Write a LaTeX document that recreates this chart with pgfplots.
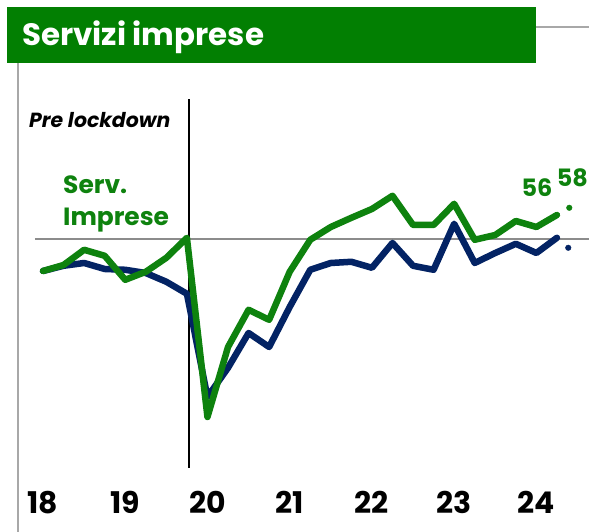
\documentclass[border=0pt]{standalone}
\usepackage{fontspec}
\setmainfont{Poppins}
\usepackage{pgfplots}
\usepackage{pgfplotstable}
\pgfplotsset{compat=1.18}

\definecolor{titlegreen}{RGB}{2,127,2}
\definecolor{sgreen}{RGB}{14,130,14}
\definecolor{navy}{RGB}{3,35,100}
\definecolor{refgray}{RGB}{140,140,140}
\definecolor{framegray}{RGB}{168,168,168}

% quarterly index, 2018Q1 = 0
\pgfplotstableread{
i  green navy
0  42.0  42.0
1  43.5  43.3
2  47.3  44.0
3  45.8  42.5
4  39.8  42.3
5  41.8  41.5
6  45.3  39.3
7  50.3  36.3
8  5.5   10.5
9  23.0  17.8
10 32.3  26.5
11 29.8  23.0
12 41.8  33.0
13 49.8  42.3
14 53.0  44.0
15 55.3  44.3
16 57.5  42.8
17 60.8  49.0
18 53.5  43.3
19 53.5  42.3
20 58.8  53.8
21 49.8  44.0
22 51.0  46.5
23 54.5  48.8
24 53.0  46.5
25 56.0  50.3
}\pmi

\begin{document}
\begin{tikzpicture}[x=1bp,y=1bp]
\clip (0,0) rectangle (589,532);
\fill[white] (0,0) rectangle (589,532);
% title bar and frame
\fill[titlegreen] (7,469) rectangle (536,525);
\node[anchor=base west, inner sep=0, text=white,
  font=\bfseries\fontsize{31}{31}\selectfont] at (22,486) {Servizi imprese};
\draw[framegray, line width=2bp] (536,505) -- (589,505);
\draw[framegray, line width=2bp] (18,0) -- (18,469);

\begin{axis}[
  at={(18bp,0bp)}, anchor=south west,
  scale only axis, width=571bp, height=470bp,
  xmin=-1.216, xmax=26.56, ymin=-23.25, ymax=94.25,
  axis line style={draw=none}, tick style={draw=none},
  ytick=\empty,
  xtick={0,4,8,12,16,20,24},
  xticklabels={\textbf{18},\textbf{19},\textbf{20},\textbf{21},\textbf{22},\textbf{23},\textbf{24}},
  xticklabel style={anchor=base, yshift=18bp, font=\fontsize{30}{30}\selectfont},
  clip=false,
]
\addplot[refgray, line width=2.5bp, forget plot] coordinates {(-0.39,50) (26.56,50)};
\addplot[black, line width=1.2bp, forget plot] coordinates {(7.1,-7.25) (7.1,85)};
\addplot[navy, line width=6.5bp, line join=round, line cap=round] table[x=i, y=navy] {\pmi};
\addplot[sgreen, line width=6.5bp, line join=round, line cap=round] table[x=i, y=green] {\pmi};
\addplot[only marks, mark=*, mark size=2.8bp, sgreen] coordinates {(25.6,57.8)};
\addplot[only marks, mark=*, mark size=2.8bp, navy] coordinates {(25.55,47.8)};
\end{axis}

\node[anchor=base west, inner sep=0, font=\bfseries\itshape\fontsize{20.5}{20.5}\selectfont] at (29,404) {Pre lockdown};
\node[anchor=base west, inner sep=0, text=sgreen, font=\bfseries\fontsize{25}{25}\selectfont] at (63,338) {Serv.};
\node[anchor=base west, inner sep=0, text=sgreen, font=\bfseries\fontsize{25}{25}\selectfont] at (63,306) {Imprese};
\node[anchor=base, inner sep=0, text=sgreen, font=\bfseries\fontsize{24}{24}\selectfont] at (537,335) {56};
\node[anchor=base east, inner sep=0, text=sgreen, font=\bfseries\fontsize{24}{24}\selectfont] at (588,345) {58};
\end{tikzpicture}
\end{document}
